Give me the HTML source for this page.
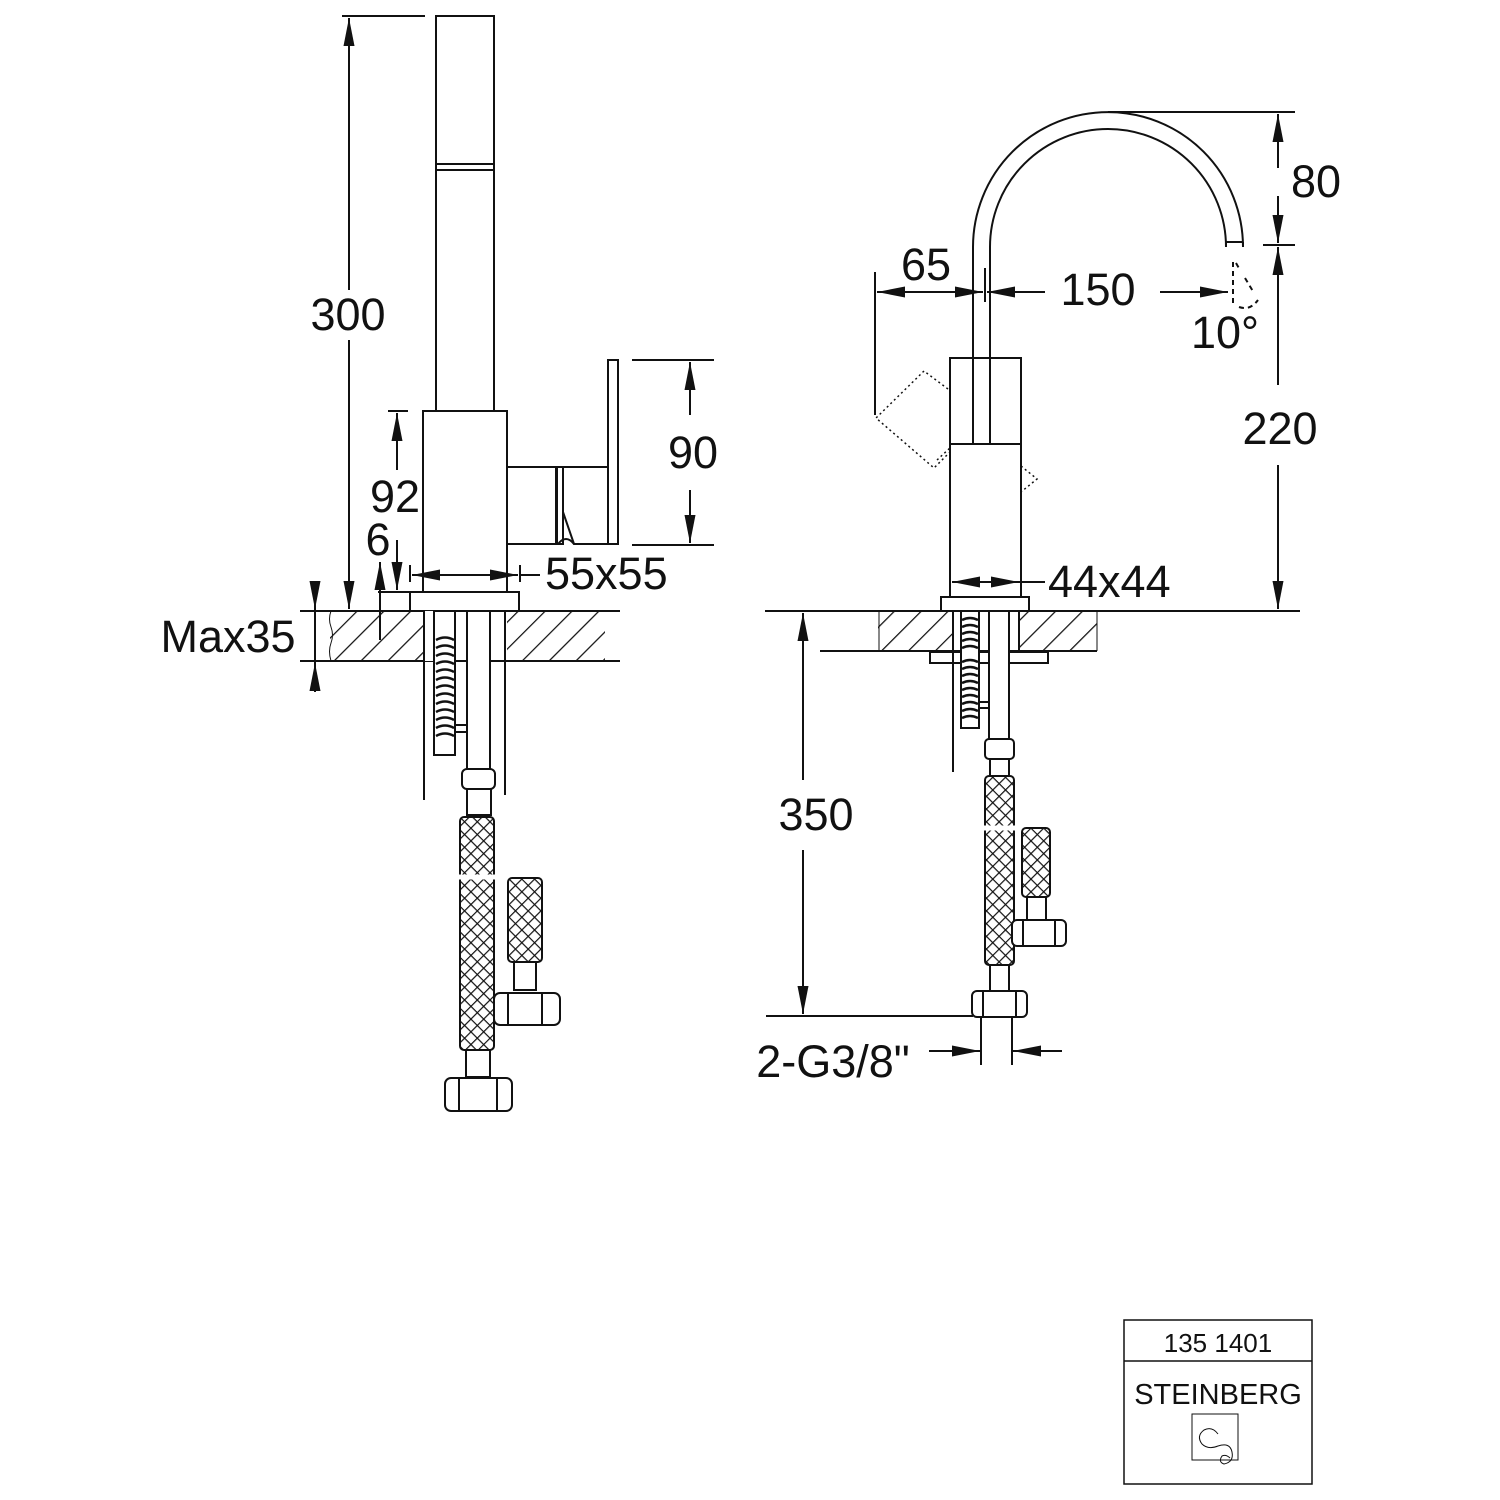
<!DOCTYPE html>
<html><head><meta charset="utf-8"><style>
html,body{margin:0;padding:0;background:#fff}
svg{display:block}
text{font-family:"Liberation Sans",sans-serif;fill:#111}
</style></head><body>
<svg width="1500" height="1500" viewBox="0 0 1500 1500" xmlns="http://www.w3.org/2000/svg">
<defs>
<marker id="a" markerWidth="28" markerHeight="11" refX="28" refY="5.5" orient="auto" markerUnits="userSpaceOnUse" viewBox="0 0 28 11"><path d="M0,0 L28,5.5 L0,11z" fill="#111"/></marker>
<pattern id="h" width="19" height="19" patternUnits="userSpaceOnUse" patternTransform="rotate(45)"><line x1="0" y1="0" x2="0" y2="19" stroke="#111" stroke-width="2.5"/></pattern>
<pattern id="x" width="9" height="9" patternUnits="userSpaceOnUse" patternTransform="rotate(45)"><rect width="9" height="9" fill="#fff"/><line x1="0" y1="0" x2="0" y2="9" stroke="#111" stroke-width="2.4"/><line x1="0" y1="0" x2="9" y2="0" stroke="#111" stroke-width="2.4"/></pattern>
</defs>
<g stroke="#111" stroke-width="2" fill="none">
<!-- LEFT VIEW -->
<rect x="436" y="16" width="58" height="395"/>
<line x1="436" y1="164" x2="494" y2="164"/><line x1="436" y1="170" x2="494" y2="170"/>
<rect x="423" y="411" width="84" height="181"/>
<rect x="507" y="467" width="49" height="77"/>
<rect x="557" y="467" width="6" height="77"/>
<path d="M563,467 H608 V544 H574 L563,512"/>
<path d="M558,544 Q566,534 574,544"/>
<rect x="608" y="360" width="10" height="184"/>
<rect x="410" y="592" width="109" height="19"/>
<line x1="378" y1="592" x2="410" y2="592"/>
<rect x="330" y="611" width="94" height="50" fill="url(#h)" stroke="none"/>
<rect x="507" y="611" width="98" height="50" fill="url(#h)" stroke="none"/>
<line x1="300" y1="611" x2="620" y2="611"/><line x1="300" y1="661" x2="620" y2="661"/>
<path d="M331,611 q-3,8 0,16 q3,8 0,16 q-3,8 0,18" stroke-width="1"/>
<rect x="424" y="611" width="10" height="50" fill="#fff" stroke="none"/>
<line x1="424" y1="611" x2="424" y2="800"/><line x1="505" y1="611" x2="505" y2="795"/>
<rect x="434" y="611" width="21" height="144" fill="#fff"/>
<path d="M436,640 q9,-5 18,0 M436,648 q9,-5 18,0 M436,656 q9,-5 18,0 M436,664 q9,-5 18,0 M436,672 q9,-5 18,0 M436,680 q9,-5 18,0 M436,688 q9,-5 18,0 M436,696 q9,-5 18,0 M436,704 q9,-5 18,0 M436,712 q9,-5 18,0 M436,720 q9,-5 18,0 M436,728 q9,-5 18,0 M436,736 q9,-5 18,0" stroke-width="2.5"/>
<rect x="455" y="725" width="12" height="7"/>
<rect x="467" y="611" width="23" height="160" fill="#fff"/>
<rect x="462" y="769" width="33" height="20" rx="5" fill="#fff"/>
<rect x="467" y="789" width="24" height="26" fill="#fff"/>
<rect x="460" y="817" width="34" height="233" rx="4" fill="url(#x)"/>
<line x1="456" y1="877" x2="498" y2="877" stroke="#fff" stroke-width="5"/>
<rect x="466" y="1050" width="24" height="27" fill="#fff"/>
<rect x="445" y="1078" width="67" height="33" rx="6" fill="#fff"/>
<line x1="459" y1="1078" x2="459" y2="1111"/><line x1="497" y1="1078" x2="497" y2="1111"/>
<rect x="508" y="878" width="34" height="84" rx="4" fill="url(#x)"/>
<rect x="514" y="962" width="22" height="28" fill="#fff"/>
<rect x="494" y="993" width="66" height="32" rx="6" fill="#fff"/>
<line x1="508" y1="993" x2="508" y2="1025"/><line x1="542" y1="993" x2="542" y2="1025"/>
<!-- left dims -->
<line x1="342" y1="16" x2="425" y2="16"/>
<line x1="349" y1="290" x2="349" y2="18" marker-end="url(#a)"/>
<line x1="349" y1="340" x2="349" y2="609" marker-end="url(#a)"/>
<line x1="388" y1="411" x2="408" y2="411"/>
<line x1="397" y1="470" x2="397" y2="413" marker-end="url(#a)"/>
<line x1="397" y1="540" x2="397" y2="590" marker-end="url(#a)"/>
<line x1="380" y1="640" x2="380" y2="562" marker-end="url(#a)"/>
<line x1="410" y1="565" x2="410" y2="582"/><line x1="520" y1="565" x2="520" y2="582"/>
<line x1="466" y1="575" x2="412" y2="575" marker-end="url(#a)"/>
<line x1="466" y1="575" x2="518" y2="575" marker-end="url(#a)"/>
<line x1="520" y1="575" x2="540" y2="575"/>
<line x1="315" y1="581" x2="315" y2="609" marker-end="url(#a)"/>
<line x1="315" y1="692" x2="315" y2="663" marker-end="url(#a)"/>
<line x1="315" y1="609" x2="315" y2="663"/>
<line x1="632" y1="360" x2="714" y2="360"/><line x1="632" y1="545" x2="714" y2="545"/>
<line x1="690" y1="415" x2="690" y2="362" marker-end="url(#a)"/>
<line x1="690" y1="490" x2="690" y2="543" marker-end="url(#a)"/>
<!-- RIGHT VIEW -->
<path d="M973,359 V247 A135,135 0 0 1 1243,247 V242"/>
<path d="M990,359 V247 A118,118 0 0 1 1226,247 V242"/>
<line x1="1225" y1="242" x2="1243" y2="242"/>
<line x1="973" y1="359" x2="973" y2="444"/><line x1="990" y1="359" x2="990" y2="444"/>
<rect x="950" y="358" width="71" height="86"/>
<rect x="950" y="444" width="71" height="153"/>
<path d="M948,389 L924,371 L876,418 L934,468 L950,452 M937,460 L950,448 M1021,466 L1037,479 L1021,492" stroke-dasharray="2,3" stroke-width="1.5"/>
<rect x="941" y="597" width="88" height="14" fill="#fff"/>
<rect x="878" y="611" width="75" height="40" fill="url(#h)" stroke="none"/>
<rect x="1020" y="611" width="77" height="40" fill="url(#h)" stroke="none"/>
<line x1="765" y1="611" x2="1300" y2="611"/><line x1="820" y1="651" x2="1097" y2="651"/>
<line x1="1097" y1="611" x2="1097" y2="651" stroke-width="1"/><line x1="879" y1="611" x2="879" y2="651" stroke-width="1"/>
<rect x="930" y="652" width="118" height="11" fill="#fff"/>
<line x1="953" y1="611" x2="953" y2="772"/><line x1="1019" y1="611" x2="1019" y2="651"/>
<rect x="961" y="611" width="18" height="117" fill="#fff"/>
<path d="M962,620 q8,-4 16,0 M962,627 q8,-4 16,0 M962,634 q8,-4 16,0 M962,641 q8,-4 16,0 M962,648 q8,-4 16,0 M962,662 q8,-4 16,0 M962,669 q8,-4 16,0 M962,676 q8,-4 16,0 M962,683 q8,-4 16,0 M962,690 q8,-4 16,0 M962,697 q8,-4 16,0 M962,704 q8,-4 16,0 M962,711 q8,-4 16,0 M962,718 q8,-4 16,0" stroke-width="2.5"/>
<rect x="979" y="702" width="10" height="6"/>
<rect x="989" y="611" width="20" height="128" fill="#fff"/>
<rect x="985" y="739" width="29" height="20" rx="4" fill="#fff"/>
<rect x="990" y="759" width="19" height="17" fill="#fff"/>
<rect x="985" y="776" width="29" height="189" rx="4" fill="url(#x)"/>
<line x1="980" y1="828" x2="1020" y2="828" stroke="#fff" stroke-width="5"/>
<rect x="990" y="965" width="19" height="26" fill="#fff"/>
<rect x="972" y="991" width="55" height="26" rx="5" fill="#fff"/>
<line x1="983" y1="991" x2="983" y2="1017"/><line x1="1016" y1="991" x2="1016" y2="1017"/>
<rect x="1022" y="828" width="28" height="69" rx="4" fill="url(#x)"/>
<rect x="1027" y="897" width="19" height="23" fill="#fff"/>
<rect x="1012" y="920" width="54" height="26" rx="5" fill="#fff"/>
<line x1="1023" y1="920" x2="1023" y2="946"/><line x1="1055" y1="920" x2="1055" y2="946"/>
<!-- right dims -->
<line x1="875" y1="272" x2="875" y2="415"/><line x1="985" y1="268" x2="985" y2="302"/>
<line x1="930" y1="292" x2="877" y2="292" marker-end="url(#a)"/>
<line x1="930" y1="292" x2="983" y2="292" marker-end="url(#a)"/>
<line x1="1045" y1="292" x2="987" y2="292" marker-end="url(#a)"/>
<line x1="1160" y1="292" x2="1228" y2="292" marker-end="url(#a)"/>
<path d="M1233,262 V305 M1236,263 L1240,270 M1245,278 L1254,293 M1239,307 Q1250,311 1258,300" stroke-dasharray="5,4"/>
<line x1="1108" y1="112" x2="1295" y2="112"/><line x1="1263" y1="245" x2="1295" y2="245"/>
<line x1="1278" y1="168" x2="1278" y2="114" marker-end="url(#a)"/>
<line x1="1278" y1="196" x2="1278" y2="243" marker-end="url(#a)"/>
<line x1="1278" y1="385" x2="1278" y2="247" marker-end="url(#a)"/>
<line x1="1278" y1="465" x2="1278" y2="609" marker-end="url(#a)"/>
<line x1="985" y1="582" x2="952" y2="582" marker-end="url(#a)"/>
<line x1="985" y1="582" x2="1019" y2="582" marker-end="url(#a)"/>
<line x1="1019" y1="582" x2="1045" y2="582"/>
<line x1="766" y1="1016" x2="973" y2="1016"/>
<line x1="803" y1="780" x2="803" y2="613" marker-end="url(#a)"/>
<line x1="803" y1="850" x2="803" y2="1014" marker-end="url(#a)"/>
<line x1="981" y1="1018" x2="981" y2="1065"/><line x1="1012" y1="1018" x2="1012" y2="1065"/>
<line x1="929" y1="1051" x2="980" y2="1051" marker-end="url(#a)"/>
<line x1="1062" y1="1051" x2="1013" y2="1051" marker-end="url(#a)"/>
<!-- title block -->
<rect x="1124" y="1320" width="188" height="164" stroke-width="1.5"/>
<line x1="1124" y1="1361" x2="1312" y2="1361" stroke-width="1.5"/>
<rect x="1192" y="1414" width="46" height="46" stroke-width="1"/>
<path d="M1218,1434 q-6,-8 -14,-4 q-8,6 -2,14 q6,6 16,2 q12,-4 14,6 q2,10 -8,12 q-6,-2 -2,-8 q4,-2 8,2" stroke-width="1"/>
</g>
<g font-size="45">
<text x="348" y="330" text-anchor="middle">300</text>
<text x="395" y="512" text-anchor="middle">92</text>
<text x="378" y="555" text-anchor="middle">6</text>
<text x="228" y="652" text-anchor="middle">Max35</text>
<text x="545" y="589">55x55</text>
<text x="693" y="468" text-anchor="middle">90</text>
<text x="926" y="280" text-anchor="middle">65</text>
<text x="1098" y="305" text-anchor="middle">150</text>
<text x="1316" y="197" text-anchor="middle">80</text>
<text x="1225" y="348" text-anchor="middle">10°</text>
<text x="1280" y="444" text-anchor="middle">220</text>
<text x="1048" y="597">44x44</text>
<text x="816" y="830" text-anchor="middle">350</text>
<text x="833" y="1077" text-anchor="middle">2-G3/8"</text>
</g>
<text x="1218" y="1352" font-size="26" text-anchor="middle">135 1401</text>
<text x="1218" y="1404" font-size="29" text-anchor="middle" style="font-weight:300">STEINBERG</text>
</svg>
</body></html>
